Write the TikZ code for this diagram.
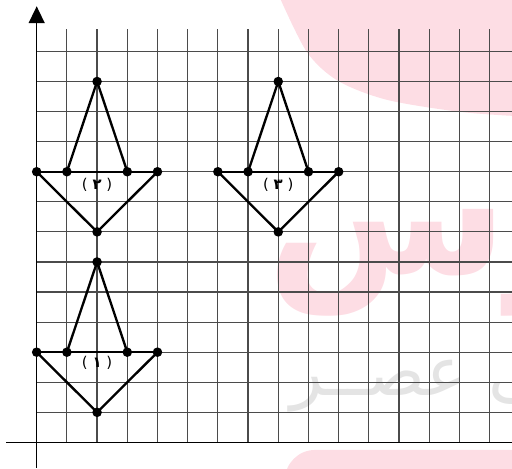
\documentclass[tikz,border=0pt]{standalone}
\usepackage{fontspec}
\newfontfamily\fa[Script=Arabic]{DejaVu Sans}
\newfontfamily\dv{DejaVu Sans}
\TeXXeTstate=1
\definecolor{wmpink}{RGB}{253,221,228}
\definecolor{wmgray}{RGB}{228,228,228}
\definecolor{gridgray}{RGB}{75,75,75}
\newcommand{\lblsp}{\hspace{4.5pt}}
\begin{document}
\begin{tikzpicture}[x=1cm,y=0.996cm,
  gridline/.style={draw=gridgray,line width=1.15pt},
  axisline/.style={draw=black,line width=1.2pt},
  edge/.style={draw=black,line width=2.2pt,line join=round,line cap=round},
  pt/.style={circle,fill=black,inner sep=0pt,minimum size=9pt},
  lbl/.style={font=\dv\fontsize{14}{14}\selectfont,inner sep=0pt}]
\useasboundingbox (-1.215,-0.881) rectangle (15.74,14.71);
% watermark
\begin{scope}
\clip (-1.215,-0.881) rectangle (15.74,14.71);
\fill[wmpink] plot[smooth] coordinates {(8.0,14.9) (8.94,12.99) (9.98,12.02) (11.6,11.39) (14.02,10.99) (15.9,10.85)} -- (15.9,14.9) -- cycle;
\fill[wmpink, rounded corners=1cm] (8.22,-0.25) rectangle (18,-2);
\node[text=wmpink, anchor=base west, font=\fa\bfseries\fontsize{165}{165}\selectfont, inner sep=0pt, text height=50pt, text depth=45pt] (wmA) at (7.6,5.6) {\beginR درس\endR};
\node[text=wmgray, anchor=base west, font=\fa\fontsize{64}{64}\selectfont, inner sep=0pt, text height=30pt, text depth=15pt] (wmB) at (8.4,1.55) {\beginR ـی عصــر\endR};
\end{scope}
% grid
\foreach \i in {1,...,15} \draw[gridline] (\i,0) -- (\i,13.75);
\foreach \j in {1,...,13} \draw[gridline] (0,\j) -- (15.74,\j);
% axes
\coordinate (xl) at (-1,0);
\coordinate (xr) at (15.74,0);
\coordinate (yb) at (0,-0.85);
\coordinate (yt) at (0,14.0);
\draw[axisline] (xl) -- (xr);
\draw[axisline] (yb) -- (yt);
\fill[black] (0,14.50) -- (-0.27,13.94) -- (0.27,13.94) -- cycle;
% shapes
\foreach \o/\b/\n in {0/3/1, 0/9/2, 6/9/3} {
  \coordinate (L\n) at (\o,\b);
  \coordinate (P\n) at (\o+1,\b);
  \coordinate (T\n) at (\o+2,\b+3);
  \coordinate (Q\n) at (\o+3,\b);
  \coordinate (R\n) at (\o+4,\b);
  \coordinate (B\n) at (\o+2,\b-2);
  \draw[edge] (L\n) -- (R\n);
  \draw[edge] (P\n) -- (T\n) -- (Q\n);
  \draw[edge] (L\n) -- (B\n) -- (R\n);
  \foreach \p in {L,P,T,Q,R,B} \node[pt] (d\p\n) at (\p\n) {};
}
\node[lbl] (lab1) at (2,2.64) {(\lblsp{\fa\bfseries ۱}\lblsp)};
\node[lbl] (lab2) at (2,8.56) {(\lblsp{\fa\bfseries ۲}\lblsp)};
\node[lbl] (lab3) at (8,8.56) {(\lblsp{\fa\bfseries ۳}\lblsp)};
\end{tikzpicture}
\end{document}
